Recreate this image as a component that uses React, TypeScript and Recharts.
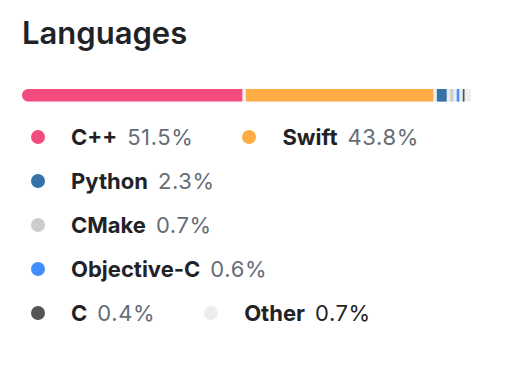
import { BarChart, Bar, XAxis, YAxis } from "recharts";

const languages = ["C++", "Swift", "Python", "CMake", "Objective-C", "C", "Other"];
const percents = [51.5, 43.8, 2.3, 0.7, 0.6, 0.4, 0.7];
const colors = ["#f34b7d", "#ffac45", "#3572a5", "#cccccc", "#438eff", "#555555", "#ededed"];

// gap between segments, in percent units (~3.5px at this width)
const GAP = 0.82;

const row: Record<string, number | string> = { name: "languages" };
languages.forEach((_, i) => {
  row[`l${i}`] = percents[i];
  if (i < languages.length - 1) row[`g${i}`] = GAP;
});
const data = [row];
const total = percents.reduce((a, b) => a + b, 0) + GAP * (languages.length - 1);

const font = 'Inter, "Noto Sans", sans-serif';

export default function App() {
  const bars: JSX.Element[] = [];
  languages.forEach((lang, i) => {
    bars.push(
      <Bar
        key={`l${i}`}
        dataKey={`l${i}`}
        stackId="a"
        fill={colors[i]}
        name={lang}
        isAnimationActive={false}
        radius={i === 0 ? [7, 0, 0, 7] : 0}
        background={i === 0 ? { fill: "#eaeef2", radius: 7 } : undefined}
      />
    );
    if (i < languages.length - 1) {
      bars.push(
        <Bar
          key={`g${i}`}
          dataKey={`g${i}`}
          stackId="a"
          fill="transparent"
          isAnimationActive={false}
        />
      );
    }
  });

  return (
    <div
      style={{
        position: "absolute",
        left: 0,
        top: 0,
        width: 512,
        height: 384,
        background: "#fff",
        fontFamily: font,
      }}
    >
      <div
        style={{
          position: "absolute",
          left: 22,
          top: 14,
          fontSize: 31,
          fontWeight: 600,
          color: "#1f2328",
          lineHeight: "38px",
        }}
      >
        Languages
      </div>

      <div style={{ position: "absolute", left: 22, top: 88 }}>
        <BarChart
          width={449}
          height={14}
          data={data}
          layout="vertical"
          margin={{ top: 0, right: 0, bottom: 0, left: 0 }}
          barCategoryGap={0}
          barSize={14}
        >
          <XAxis type="number" hide domain={[0, total]} />
          <YAxis type="category" dataKey="name" hide />
          {bars}
        </BarChart>
      </div>

      <div
        style={{
          position: "absolute",
          left: 31,
          top: 115,
          width: 452,
          display: "flex",
          flexWrap: "wrap",
          fontSize: 22,
        }}
      >
        {languages.map((lang, i) => (
          <div
            key={lang}
            style={{
              display: "flex",
              alignItems: "center",
              height: 44,
              marginRight: 49,
              whiteSpace: "nowrap",
            }}
          >
            <span
              style={{
                display: "inline-block",
                width: 14,
                height: 14,
                borderRadius: 7,
                background: colors[i],
                marginRight: 26,
              }}
            />
            <span style={{ fontWeight: 700, color: "#1f2328", marginRight: 10 }}>{lang}</span>
            <span
              style={{
                color: lang === "Other" ? "#1f2328" : "#656d76",
                letterSpacing: 0.6,
              }}
            >
              {percents[i]}%
            </span>
          </div>
        ))}
      </div>
    </div>
  );
}
